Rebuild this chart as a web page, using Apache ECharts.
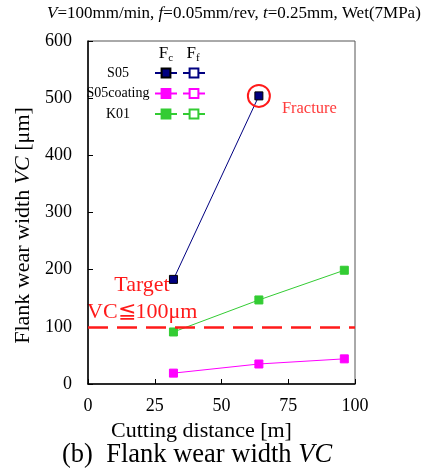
<!DOCTYPE html>
<html>
<head>
<meta charset="utf-8">
<script src="https://cdn.jsdelivr.net/npm/echarts@6/dist/echarts.min.js"></script>
<style>
  html, body { margin: 0; padding: 0; background: #fff; }
  #chart { width: 425px; height: 470px; }
</style>
</head>
<body>
<div id="chart"></div>
<script>
///////////////////////////////////////////////////
// Used data
///////////////////////////////////////////////////
var materials = ['S05', 'S05coating', 'K01'];
var colors = ['#000080', '#ff00ff', '#33cc33'];

// cutting distance [m] / flank wear width VC [um]
var s05 = [[32, 183], [64, 504]];
var s05coating = [[32, 19], [64, 35], [96, 44]];
var k01 = [[32, 91], [64, 147], [96, 199]];

var xTicks = [0, 25, 50, 75, 100];
var yTicks = [0, 100, 200, 300, 400, 500, 600];
var targetVC = 100;
var fracturePoint = [64, 504];

var serif = 'Liberation Serif';

///////////////////////////////////////////////////
// Series
///////////////////////////////////////////////////
var fcData = [s05, s05coating, k01];

var series = materials.map(function (name, i) {
  return {
    name: name,
    type: 'line',
    data: fcData[i],
    symbol: 'rect',
    symbolSize: 8,
    color: colors[i],
    lineStyle: { width: 1, color: colors[i] },
    itemStyle: { color: colors[i], borderColor: i === 0 ? '#000' : colors[i], borderWidth: 1 },
    z: 3,
  };
});

// Ff series: only shown in the legend (hollow markers)
materials.forEach(function (name, i) {
  series.push({
    name: name + ' Ff',
    type: 'line',
    data: [],
    symbol: 'emptyRect',
    symbolSize: 8,
    color: colors[i],
    lineStyle: { width: 1, color: colors[i] },
  });
});

// fracture circle
series[0].markPoint = {
  silent: true,
  data: [{
    coord: fracturePoint,
    symbol: 'circle',
    symbolSize: 22,
    itemStyle: { color: 'rgba(0,0,0,0)', borderColor: '#ff1a1a', borderWidth: 2 },
    label: {
      show: true,
      formatter: 'Fracture',
      position: 'right',
      distance: 11,
      offset: [0, 13],
      color: '#ff3b3b',
      fontFamily: serif,
      fontSize: 16.5,
    },
  }],
};

// target line
series[2].markLine = {
  silent: true,
  symbol: 'none',
  label: { show: false },
  lineStyle: { color: '#ff1a1a', width: 2.5, type: [20, 9] },
  data: [{ yAxis: targetVC }],
};

///////////////////////////////////////////////////
// Chart
///////////////////////////////////////////////////
var myChart = echarts.init(document.getElementById('chart'), null, { renderer: 'canvas' });

var richText = function (size) {
  return {
    n: { fontFamily: serif, fontSize: size, fontWeight: 'normal', color: '#000' },
    i: { fontFamily: serif, fontSize: size, fontWeight: 'normal', fontStyle: 'italic', color: '#000' },
  };
};

var legendBase = {
  orient: 'vertical',
  top: 66,
  padding: 0,
  itemWidth: 22,
  itemHeight: 11,
  itemGap: 6.5,
  selectedMode: false,
};

var option = {
  backgroundColor: '#fff',
  animation: false,
  textStyle: { fontFamily: serif, color: '#000' },
  title: [
    {
      text: '{i|V}{n|=100mm/min, }{i|f}{n|=0.05mm/rev, }{i|t}{n|=0.25mm, Wet(7MPa)}',
      left: 47,
      top: 5,
      padding: 0,
      textStyle: { fontWeight: 'normal', rich: richText(17) },
    },
    {
      text: '{n|(b)  Flank wear width }{i|VC}',
      left: 62,
      top: 442,
      padding: 0,
      textStyle: { fontWeight: 'normal', rich: richText(26.5) },
    },
  ],
  grid: {
    left: 88,
    right: 70,
    top: 41,
    bottom: 86,
    show: true,
    borderColor: '#555',
    borderWidth: 1,
  },
  legend: [
    Object.assign({}, legendBase, {
      data: materials,
      align: 'right',
      left: 86,
      formatter: function (name) { return '{a|' + name + '}'; },
      textStyle: {
        rich: { a: { width: 64, align: 'center', fontFamily: serif, fontSize: 14, lineHeight: 11, color: '#000' } },
      },
    }),
    Object.assign({}, legendBase, {
      data: materials.map(function (m) { return m + ' Ff'; }),
      left: 182,
      formatter: function () { return '{a| }'; },
      textStyle: {
        rich: { a: { width: 1, fontFamily: serif, fontSize: 14, lineHeight: 11, color: '#000' } },
      },
    }),
  ],
  xAxis: {
    type: 'value',
    min: xTicks[0],
    max: xTicks[xTicks.length - 1],
    interval: 25,
    name: 'Cutting distance [m]',
    nameLocation: 'middle',
    nameGap: 34,
    nameTextStyle: { fontFamily: serif, fontSize: 22, color: '#000', padding: [0, 40, 0, 0] },
    axisLine: { lineStyle: { color: '#000', width: 1.5 } },
    axisTick: { inside: true, length: 5, lineStyle: { color: '#000' } },
    axisLabel: { fontFamily: serif, fontSize: 18, color: '#000', margin: 13 },
    splitLine: { show: false },
  },
  yAxis: {
    type: 'value',
    min: yTicks[0],
    max: yTicks[yTicks.length - 1],
    interval: 100,
    name: '{n|Flank wear width }{i|VC}{n| [μm]}',
    nameLocation: 'middle',
    nameGap: 51,
    nameTextStyle: {
      padding: [0, 0, 0, -26],
      rich: richText(22),
    },
    axisLine: { show: true, lineStyle: { color: '#000', width: 1.5 } },
    axisTick: { show: true, inside: true, length: 5, lineStyle: { color: '#000' } },
    axisLabel: { fontFamily: serif, fontSize: 18, color: '#000', margin: 16 },
    splitLine: { show: false },
  },
  graphic: [
    {
      type: 'text',
      x: 166, y: 54,
      style: {
        text: '{m|F}{s|c}',
        align: 'center', verticalAlign: 'middle',
        rich: {
          m: { fontFamily: serif, fontSize: 17, fill: '#000' },
          s: { fontFamily: serif, fontSize: 11, fill: '#000', padding: [8, 0, 0, 0] },
        },
      },
    },
    {
      type: 'text',
      x: 193, y: 54,
      style: {
        text: '{m|F}{s|f}',
        align: 'center', verticalAlign: 'middle',
        rich: {
          m: { fontFamily: serif, fontSize: 17, fill: '#000' },
          s: { fontFamily: serif, fontSize: 11, fill: '#000', padding: [8, 0, 0, 0] },
        },
      },
    },
    {
      type: 'text',
      x: 142, y: 285,
      style: {
        text: 'Target',
        align: 'center', verticalAlign: 'middle',
        font: '22px "Liberation Serif"', fill: '#ff1a1a',
      },
    },
    {
      type: 'text',
      x: 87, y: 312,
      style: {
        text: 'VC≦100μm',
        align: 'left', verticalAlign: 'middle',
        font: '22px "Liberation Serif"', fill: '#ff1a1a',
      },
    },
  ],
  series: series,
};

myChart.setOption(option);
</script>
</body>
</html>
